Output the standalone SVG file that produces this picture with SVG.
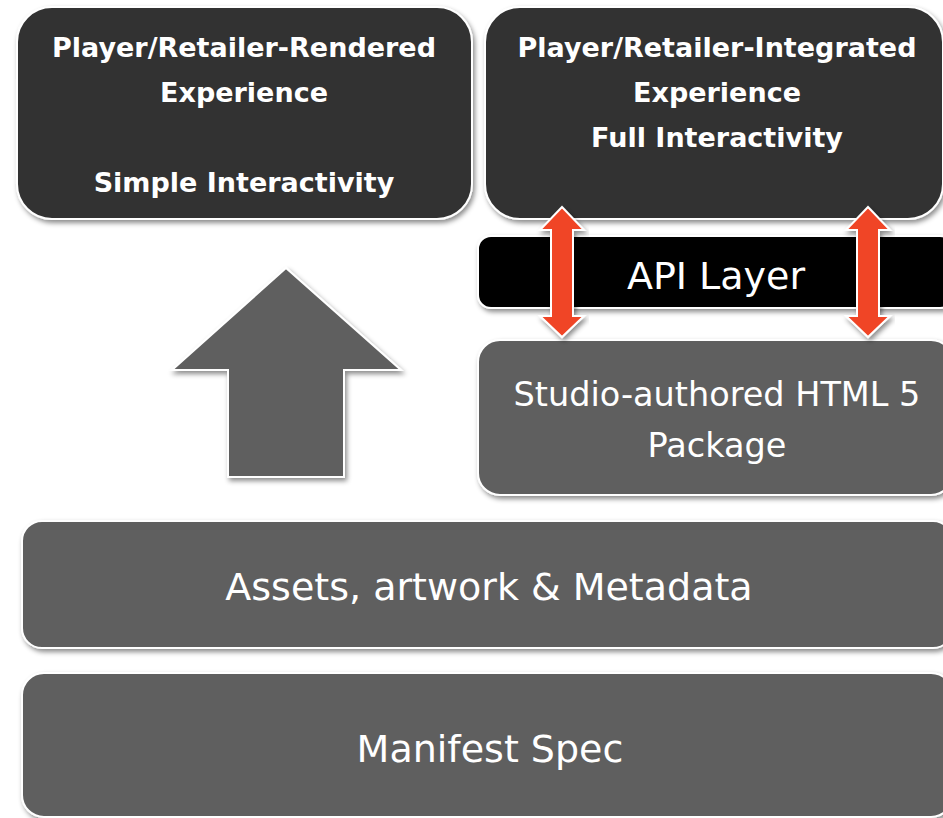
<svg xmlns="http://www.w3.org/2000/svg" width="943" height="818" viewBox="0 0 943 818">
  <defs>
    <filter id="shadow" x="-10%" y="-10%" width="120%" height="130%">
      <feDropShadow dx="2" dy="3" stdDeviation="2.5" flood-color="#000" flood-opacity="0.45"/>
    </filter>
    <style>
      .box { stroke: #ffffff; stroke-width: 2; filter: url(#shadow); }
      .dark { fill: #333333; }
      .black { fill: #000000; }
      .gray { fill: #5f5f5f; }
      .title { font-family: "DejaVu Sans", "Liberation Sans", sans-serif; font-weight: bold; font-size: 27px; fill: #ffffff; text-anchor: middle; }
      .label { font-family: "DejaVu Sans", "Liberation Sans", sans-serif; font-size: 38px; fill: #ffffff; text-anchor: middle; }
      .bigarrow { fill: #5f5f5f; stroke: #ffffff; stroke-width: 2; filter: url(#shadow); }
      .link { fill: #f04525; stroke: #ffffff; stroke-width: 2; filter: url(#shadow); }
    </style>
  </defs>

  <rect width="943" height="818" fill="#ffffff"/>

  <!-- rendered experience -->
  <g id="rendered-experience">
    <rect class="box dark" x="17" y="7" width="455" height="212" rx="35" ry="35"/>
    <text class="title" x="244" y="57">Player/Retailer-Rendered</text>
    <text class="title" x="244" y="102">Experience</text>
    <text class="title" x="244" y="192">Simple Interactivity</text>
  </g>

  <!-- integrated experience -->
  <g id="integrated-experience">
    <rect class="box dark" x="485" y="7" width="458" height="212" rx="35" ry="35"/>
    <text class="title" x="717" y="57">Player/Retailer-Integrated</text>
    <text class="title" x="717" y="102">Experience</text>
    <text class="title" x="717" y="147">Full Interactivity</text>
  </g>

  <!-- API layer -->
  <g id="api-layer">
    <rect class="box black" x="478" y="236" width="475" height="72" rx="13" ry="13"/>
    <text class="label" x="716" y="289" font-size="39">API Layer</text>
  </g>

  <!-- HTML5 package -->
  <g id="html5-package">
    <rect class="box gray" x="478" y="340" width="475" height="155" rx="22" ry="22"/>
    <text class="label" x="717" y="406" style="font-size:33.5px">Studio-authored HTML 5</text>
    <text class="label" x="717" y="457" style="font-size:33.5px">Package</text>
  </g>

  <!-- assets -->
  <g id="assets">
    <rect class="box gray" x="22" y="521" width="931" height="127" rx="20" ry="20"/>
    <text class="label" x="489" y="600">Assets, artwork &amp; Metadata</text>
  </g>

  <!-- manifest -->
  <g id="manifest">
    <rect class="box gray" x="22" y="673" width="931" height="144" rx="22" ry="22"/>
    <text class="label" x="490" y="762">Manifest Spec</text>
  </g>

  <!-- connectors -->
  <g id="connectors">
    <polygon class="bigarrow" points="286,268 401,370 344,370 344,477 228,477 228,370 172,370"/>
    <polygon class="link" points="562,207 584,230 573,230 573,316 584,316 562,337 540,316 551,316 551,230 540,230"/>
    <polygon class="link" points="868,207 890,230 879,230 879,316 890,316 868,337 846,316 857,316 857,230 846,230"/>
  </g>
</svg>
